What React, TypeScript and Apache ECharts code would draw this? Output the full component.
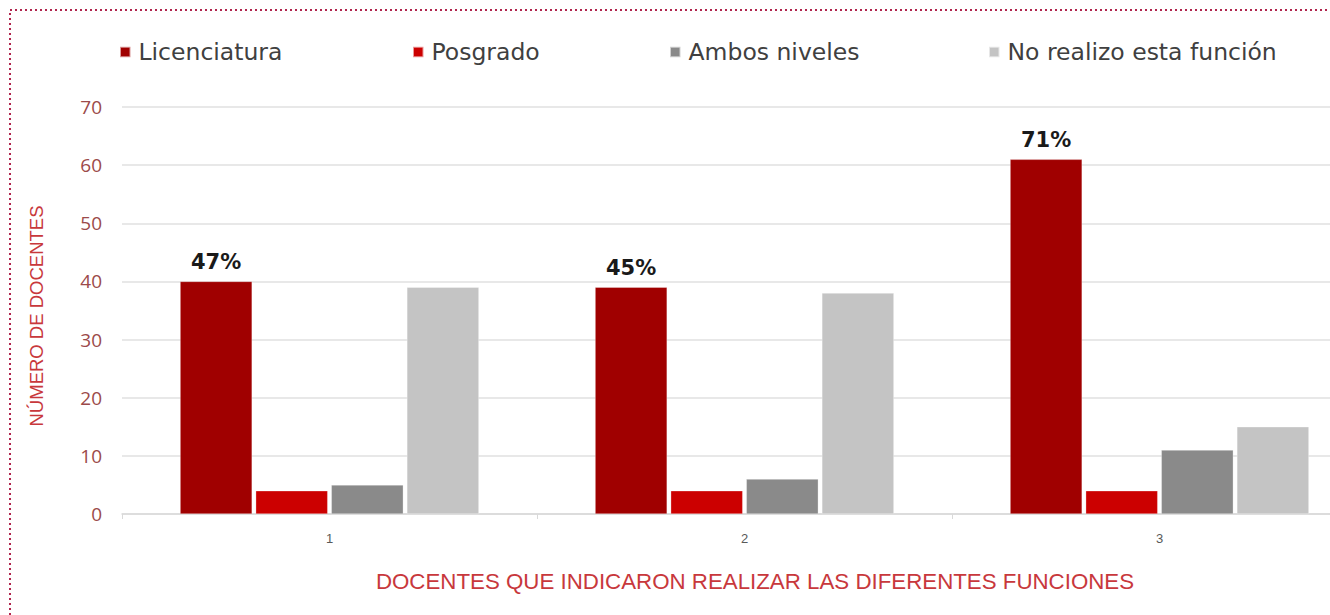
import React, { useEffect, useRef } from "react";
import * as echarts from "echarts";

const categories = ["1", "2", "3"];
const seriesNames = ["Licenciatura", "Posgrado", "Ambos niveles", "No realizo esta función"];
const licenciatura = [40, 39, 61];
const posgrado = [4, 4, 4];
const ambos = [5, 6, 11];
const noRealizo = [39, 38, 15];
const pctLabels = ["47%", "45%", "71%"];
const yTicks = { min: 0, max: 70, interval: 10 };
const colors = ["#A00000", "#CC0000", "#8A8A8A", "#C4C4C4"];
const legendLeft = [114, 407, 664, 983];

export default function App() {
  const ref = useRef<HTMLDivElement>(null);
  useEffect(() => {
    if (!ref.current) return;
    const chart = echarts.init(ref.current, null, { renderer: "svg" });
    const values = [licenciatura, posgrado, ambos, noRealizo];
    const option: any = {
      animation: false,
      backgroundColor: "#ffffff",
      legend: seriesNames.map((n, i) => ({
        data: [n],
        left: legendLeft[i],
        top: 35,
        icon: "rect",
        itemWidth: 10.5,
        itemHeight: 10.5,
        textStyle: {
          fontFamily: "DejaVu Sans",
          fontSize: 23.5,
          color: "#404040",
          padding: [0, 0, 0, 3],
        },
      })),
      grid: { left: 122, right: 0, top: 107, bottom: 101, containLabel: false },
      xAxis: {
        type: "category",
        data: categories,
        axisLine: { show: true, lineStyle: { color: "#D9D9D9", width: 1.5 } },
        axisTick: { show: true, length: 5, lineStyle: { color: "#D9D9D9" } },
        axisLabel: {
          margin: 18,
          fontFamily: "Liberation Sans",
          fontSize: 13,
          color: "#595959",
        },
        splitLine: { show: false },
      },
      yAxis: {
        type: "value",
        min: yTicks.min,
        max: yTicks.max,
        interval: yTicks.interval,
        axisLine: { show: false },
        axisTick: { show: false },
        axisLabel: {
          margin: 20,
          fontFamily: "Open Sans",
          fontSize: 19,
          color: "#9C4A4A",
        },
        splitLine: { show: true, lineStyle: { color: "#E0E0E0", width: 1.5 } },
      },
      series: values.map((v, i) => ({
        name: seriesNames[i],
        type: "bar",
        data: v,
        barGap: "5%",
        barCategoryGap: "28%",
        itemStyle: { color: colors[i], borderColor: "rgba(255,255,255,0.6)", borderWidth: 0.5 },
        label:
          i === 0
            ? {
                show: true,
                position: "top",
                distance: 9,
                formatter: (p: any) => pctLabels[p.dataIndex],
                fontFamily: "DejaVu Sans",
                fontWeight: "bold",
                fontSize: 21,
                color: "#1a1a1a",
              }
            : { show: false },
      })),
      graphic: [
        {
          type: "rect",
          shape: { x: 10, y: 10, width: 1400, height: 640 },
          style: { fill: "none", stroke: "#B0254D", lineWidth: 2, lineDash: [2, 3] },
          silent: true,
        },
        {
          type: "text",
          x: 755,
          y: 581,
          style: {
            text: "DOCENTES QUE INDICARON REALIZAR LAS DIFERENTES FUNCIONES",
            fontFamily: "Liberation Sans",
            fontSize: 22.3,
            fill: "#C8383C",
            align: "center",
            verticalAlign: "middle",
          },
        },
        {
          type: "text",
          x: 36,
          y: 316,
          rotation: Math.PI / 2,
          style: {
            text: "NÚMERO DE DOCENTES",
            fontFamily: "Liberation Sans",
            fontSize: 18.5,
            fill: "#C8383C",
            align: "center",
            verticalAlign: "middle",
          },
        },
      ],
    };
    chart.setOption(option);
    return () => chart.dispose();
  }, []);
  return (
    <div
      style={{
        position: "absolute",
        left: 0,
        top: 0,
        width: 1330,
        height: 615,
        overflow: "hidden",
        background: "#fff",
      }}
    >
      <div ref={ref} style={{ width: 1367, height: 615 }} />
    </div>
  );
}
